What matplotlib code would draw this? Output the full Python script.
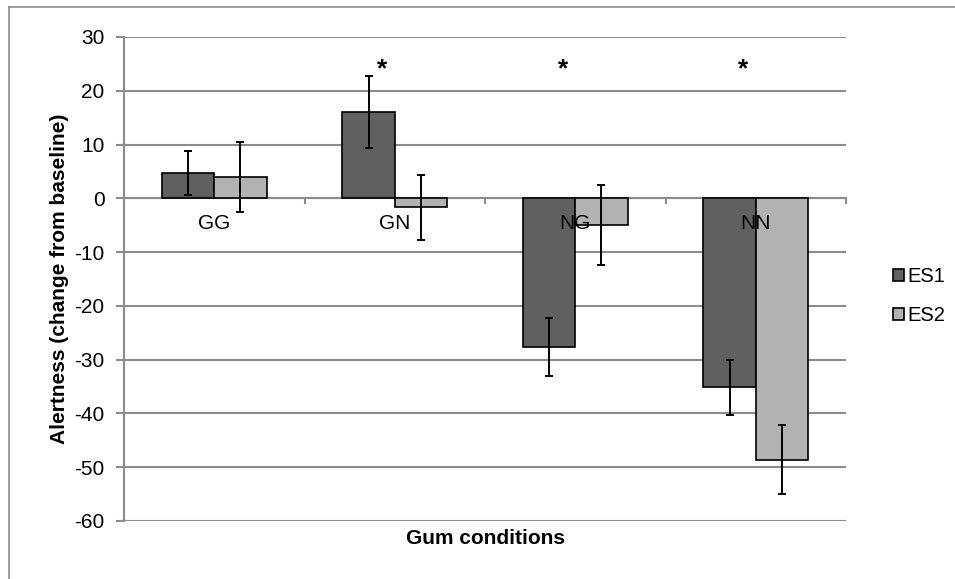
import numpy as np
import matplotlib
matplotlib.use("Agg")
import matplotlib.pyplot as plt
from matplotlib.lines import Line2D

plt.rcParams['font.family'] = ['Liberation Sans', 'DejaVu Sans']
plt.rcParams['axes.unicode_minus'] = False

# Data
conditions = ["GG", "GN", "NG", "NN"]
es1_means = [4.7, 16.1, -27.7, -35.1]
es1_errors = [4.1, 6.7, 5.4, 5.1]
es2_means = [4.0, -1.7, -5.0, -48.6]
es2_errors = [6.5, 6.0, 7.4, 6.4]
significant = [False, True, True, True]

grid_grey = "#8c8c8c"

fig = plt.figure(figsize=(9.55, 5.79), dpi=100)
ax = fig.add_axes([124 / 955, 1 - 521 / 579, 722 / 955, 484 / 579])

x = np.arange(len(conditions))
width = 0.29
err_style = dict(ecolor="black", elinewidth=1.4, capsize=3, capthick=1.4)

ax.bar(x - width / 2, es1_means, width, color="#606060", edgecolor="black",
       linewidth=1.2, yerr=es1_errors, error_kw=err_style, label="ES1", zorder=2)
ax.bar(x + width / 2, es2_means, width, color="#b2b2b2", edgecolor="black",
       linewidth=1.2, yerr=es2_errors, error_kw=err_style, label="ES2", zorder=2)

# significance stars
for i, sig in enumerate(significant):
    if sig:
        ax.text(i - 0.07, 24, "*", ha="center", va="center", fontsize=19,
                fontweight="bold")

ax.set_xlim(-0.5, len(conditions) - 0.5)
ax.set_ylim(-60, 30)
ax.set_yticks(np.arange(-60, 31, 10))
ax.yaxis.grid(True, color=grid_grey, linewidth=1.5)
ax.set_axisbelow(True)
# category labels are drawn on top of the bars
ax.xaxis.set_zorder(3)

# category axis sits on the zero line
ax.spines["bottom"].set_position(("data", 0))
ax.spines["bottom"].set_color(grid_grey)
ax.spines["bottom"].set_linewidth(1.5)
ax.spines["bottom"].set_zorder(1)
ax.spines["left"].set_color(grid_grey)
ax.spines["left"].set_linewidth(1.5)
ax.spines["top"].set_visible(False)
ax.spines["right"].set_visible(False)

ax.set_xticks(x)
ax.set_xticklabels(conditions)
ax.set_xticks(np.arange(-0.5, len(conditions), 1.0), minor=True)
ax.tick_params(axis="x", which="major", length=0, pad=11, labelsize=15)
ax.tick_params(axis="x", which="minor", length=4, width=1.5, color=grid_grey,
               direction="out")
ax.tick_params(axis="y", length=6, width=1.5, color=grid_grey, pad=8,
               labelsize=15)

ax.set_ylabel("Alertness (change from baseline)", fontsize=15,
              fontweight="bold", labelpad=4)
fig.text((124 + 361) / 955, 1 - 539 / 579, "Gum conditions", ha="center",
         va="center", fontsize=15, fontweight="bold")

handles, labels = ax.get_legend_handles_labels()
fig.legend(handles, labels, loc="center left", bbox_to_anchor=(883 / 955, 1 - 296 / 579),
           frameon=False, fontsize=14.5, handlelength=0.55, handleheight=0.55,
           handletextpad=0.15, labelspacing=1.0, borderpad=0)

# outer chart border
fig.add_artist(Line2D([9 / 955, 9 / 955], [0, 1 - 7 / 579], transform=fig.transFigure,
                      color=grid_grey, linewidth=1.2))
fig.add_artist(Line2D([9 / 955, 1], [1 - 7 / 579, 1 - 7 / 579], transform=fig.transFigure,
                      color=grid_grey, linewidth=1.2))

fig.savefig("out.png", dpi=100)
